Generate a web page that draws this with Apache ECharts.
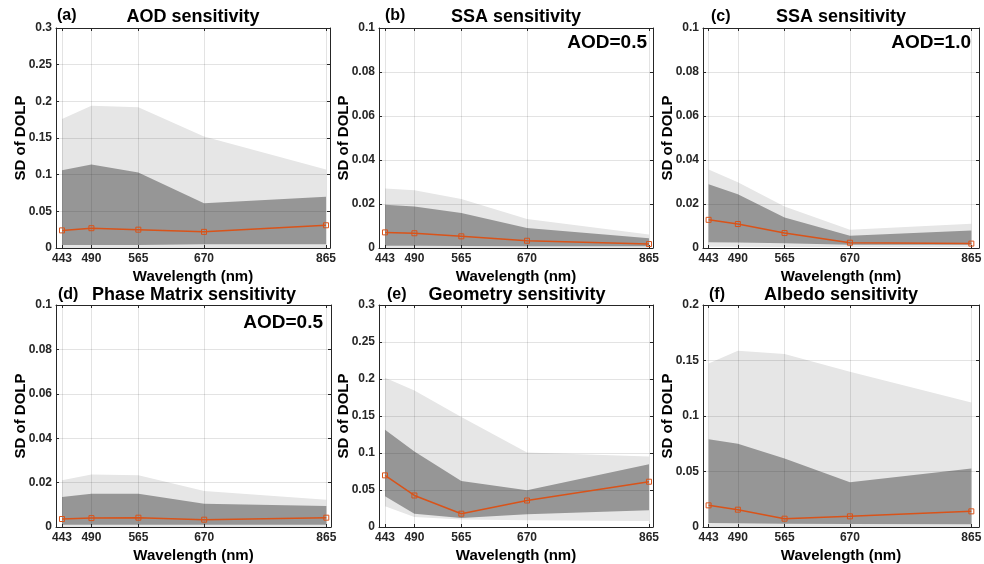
<!DOCTYPE html>
<html><head><meta charset="utf-8">
<script src="https://cdn.jsdelivr.net/npm/echarts@6/dist/echarts.min.js"></script>
<style>html,body{margin:0;padding:0;background:#fff}#c{width:984px;height:564px}</style>
</head><body><div id="c"></div>
<script>
// ---------- data ----------
const wavelengths = [443, 490, 565, 670, 865];
const panelTitles = ['AOD sensitivity', 'SSA sensitivity', 'SSA sensitivity', 'Phase Matrix sensitivity', 'Geometry sensitivity', 'Albedo sensitivity'];
const panelLabels = ['(a)', '(b)', '(c)', '(d)', '(e)', '(f)'];
const aodNotes = ['', 'AOD=0.5', 'AOD=1.0', 'AOD=0.5', '', ''];
const yMaxes = [0.3, 0.1, 0.1, 0.1, 0.3, 0.2];
const yIntervals = [0.05, 0.02, 0.02, 0.02, 0.05, 0.05];
const yAxisTitle = 'SD of DOLP';
const xAxisTitle = 'Wavelength (nm)';

// (a) AOD sensitivity
const aLightHi = [0.176, 0.194, 0.192, 0.152, 0.107];
const aDarkHi  = [0.106, 0.114, 0.103, 0.061, 0.070];
const aDarkLo  = [0.004, 0.004, 0.004, 0.005, 0.005];
const aLightLo = [0.000, 0.000, 0.000, 0.000, 0.000];
const aMean    = [0.024, 0.027, 0.025, 0.022, 0.031];
// (b) SSA sensitivity, AOD=0.5
const bLightHi = [0.0271, 0.0262, 0.0223, 0.0132, 0.0061];
const bDarkHi  = [0.0197, 0.0189, 0.0159, 0.0091, 0.0044];
const bDarkLo  = [0.0010, 0.0010, 0.0009, 0.0008, 0.0008];
const bLightLo = [0.0000, 0.0000, 0.0000, 0.0000, 0.0000];
const bMean    = [0.0071, 0.0067, 0.0053, 0.0033, 0.0018];
// (c) SSA sensitivity, AOD=1.0
const cLightHi = [0.0357, 0.0299, 0.0189, 0.0083, 0.0110];
const cDarkHi  = [0.0290, 0.0244, 0.0139, 0.0056, 0.0080];
const cDarkLo  = [0.0026, 0.0025, 0.0022, 0.0015, 0.0015];
const cLightLo = [0.0006, 0.0006, 0.0005, 0.0005, 0.0005];
const cMean    = [0.0128, 0.0109, 0.0068, 0.0024, 0.0020];
// (d) Phase Matrix sensitivity, AOD=0.5
const dLightHi = [0.0211, 0.0236, 0.0233, 0.0162, 0.0123];
const dDarkHi  = [0.0135, 0.0150, 0.0150, 0.0105, 0.0095];
const dDarkLo  = [0.0010, 0.0010, 0.0010, 0.0010, 0.0010];
const dLightLo = [0.0000, 0.0000, 0.0000, 0.0000, 0.0000];
const dMean    = [0.0036, 0.0040, 0.0042, 0.0033, 0.0042];
// (e) Geometry sensitivity
const eLightHi = [0.2017, 0.1845, 0.1486, 0.1006, 0.0952];
const eDarkHi  = [0.1314, 0.1020, 0.0620, 0.0498, 0.0847];
const eDarkLo  = [0.0417, 0.0180, 0.0122, 0.0172, 0.0227];
const eLightLo = [0.0281, 0.0136, 0.0100, 0.0090, 0.0082];
const eMean    = [0.0698, 0.0426, 0.0180, 0.0358, 0.0612];
// (f) Albedo sensitivity
const fLightHi = [0.1474, 0.1588, 0.1558, 0.1398, 0.1122];
const fDarkHi  = [0.0791, 0.0749, 0.0617, 0.0403, 0.0526];
const fDarkLo  = [0.0036, 0.0034, 0.0030, 0.0028, 0.0024];
const fLightLo = [0.0000, 0.0000, 0.0000, 0.0000, 0.0000];
const fMean    = [0.0195, 0.0156, 0.0075, 0.0096, 0.0141];

const panels = [
  [aLightHi, aDarkHi, aDarkLo, aLightLo, aMean],
  [bLightHi, bDarkHi, bDarkLo, bLightLo, bMean],
  [cLightHi, cDarkHi, cDarkLo, cLightLo, cMean],
  [dLightHi, dDarkHi, dDarkLo, dLightLo, dMean],
  [eLightHi, eDarkHi, eDarkLo, eLightLo, eMean],
  [fLightHi, fDarkHi, fDarkLo, fLightLo, fMean]
];

// ---------- layout / style ----------
const FONT = 'Liberation Sans, Arial, Helvetica, sans-serif';
const AX = '#262626';
const GRIDC = 'rgba(38,38,38,0.13)';
const LIGHT = '#e6e6e6';
const DARK = '#969696';
const LINEC = '#D95319';
const gridBoxes = [
  {left: 56,  top: 28,  width: 274, height: 220},
  {left: 379, top: 28,  width: 274, height: 220},
  {left: 703, top: 28,  width: 276, height: 220},
  {left: 56,  top: 305, width: 275, height: 222},
  {left: 379, top: 305, width: 274, height: 222},
  {left: 703, top: 305, width: 276, height: 222}
];
const xMins = [433.4, 433.4, 434, 433.4, 433.4, 434];
const xMaxs = [871.4, 871.4, 877.3, 872.5, 871.4, 877.3];

const grid = [], xAxis = [], yAxis = [], series = [], graphic = [];
const pair = (ys) => wavelengths.map((w, k) => [w, ys[k]]);
const bandRows = (lo, hi) => wavelengths.map((w, k) => [w, lo[k], hi[k]]);

function bandRenderer(fill) {
  return function (params, api) {
    if (params.dataIndexInside !== 0) return null;
    const n = params.dataInsideLength;
    const top = [], bot = [];
    for (let k = 0; k < n; k++) {
      top.push(api.coord([api.value(0, k), api.value(2, k)]));
      bot.push(api.coord([api.value(0, k), api.value(1, k)]));
    }
    return {type: 'polygon', shape: {points: top.concat(bot.reverse())}, style: {fill: fill, stroke: null}};
  };
}

panels.forEach((p, i) => {
  const g = gridBoxes[i];
  grid.push(Object.assign({containLabel: false, outerBoundsMode: 'none'}, g));
  const lineSt = {show: true, onZero: false, lineStyle: {color: AX, width: 1}};
  xAxis.push({
    gridIndex: i, type: 'value', min: xMins[i], max: xMaxs[i], position: 'bottom', z: 5,
    axisLine: lineSt,
    axisTick: {show: true, inside: true, length: 3, customValues: wavelengths, lineStyle: {color: AX}},
    axisLabel: {customValues: wavelengths, fontSize: 12, fontWeight: 'bold', color: AX, margin: 5, fontFamily: FONT},
    splitLine: {show: true, lineStyle: {color: GRIDC, width: 1}},
    name: xAxisTitle, nameLocation: 'middle', nameGap: 21, nameMoveOverlap: false,
    nameTextStyle: {fontSize: 15, fontWeight: 'bold', color: '#000', fontFamily: FONT}
  });
  xAxis.push({
    gridIndex: i, type: 'value', min: xMins[i], max: xMaxs[i], position: 'top', z: 5,
    axisLine: lineSt,
    axisTick: {show: true, inside: true, length: 3, customValues: wavelengths, lineStyle: {color: AX}},
    axisLabel: {show: false}, splitLine: {show: false}
  });
  yAxis.push({
    gridIndex: i, type: 'value', min: 0, max: yMaxes[i], interval: yIntervals[i], position: 'left', z: 5,
    axisLine: lineSt,
    axisTick: {show: true, inside: true, length: 3, lineStyle: {color: AX}},
    axisLabel: {fontSize: 12, fontWeight: 'bold', color: AX, margin: 4, fontFamily: FONT},
    splitLine: {show: true, lineStyle: {color: GRIDC, width: 1}},
    name: yAxisTitle, nameLocation: 'middle', nameGap: 28, nameMoveOverlap: false,
    nameTextStyle: {fontSize: 15, fontWeight: 'bold', color: '#000', fontFamily: FONT}
  });
  yAxis.push({
    gridIndex: i, type: 'value', min: 0, max: yMaxes[i], interval: yIntervals[i], position: 'right', z: 5,
    axisLine: lineSt,
    axisTick: {show: true, inside: true, length: 3, lineStyle: {color: AX}},
    axisLabel: {show: false}, splitLine: {show: false}
  });
  const [lHi, dHi, dLo, lLo, mean] = p;
  series.push({type: 'custom', xAxisIndex: 2 * i, yAxisIndex: 2 * i, z: 1, silent: true,
    data: bandRows(lLo, lHi), encode: {x: 0, y: [1, 2]}, renderItem: bandRenderer(LIGHT)});
  series.push({type: 'custom', xAxisIndex: 2 * i, yAxisIndex: 2 * i, z: 2, silent: true,
    data: bandRows(dLo, dHi), encode: {x: 0, y: [1, 2]}, renderItem: bandRenderer(DARK)});
  series.push({
    type: 'line', xAxisIndex: 2 * i, yAxisIndex: 2 * i, data: pair(mean), z: 6,
    symbol: 'rect', symbolSize: 5,
    lineStyle: {color: LINEC, width: 1.5},
    itemStyle: {color: 'rgba(255,255,255,0)', borderColor: LINEC, borderWidth: 1}
  });
});

// titles and panel labels
const titleCenters = [[193, 17], [516, 17], [841, 17], [194, 295], [517, 295], [841, 295]];
const labelPos = [[57, 16], [385, 16], [711, 17], [58, 295], [387, 295], [709, 295]];
const notePos = [null, [647, 43], [971, 43], [323, 323], null, null];
panelTitles.forEach((t, i) => {
  graphic.push({type: 'text', x: titleCenters[i][0], y: titleCenters[i][1], z: 10,
    style: {text: t, fill: '#000', font: 'bold 18px ' + FONT, textAlign: 'center', textVerticalAlign: 'middle'}});
  graphic.push({type: 'text', x: labelPos[i][0], y: labelPos[i][1], z: 10,
    style: {text: panelLabels[i], fill: '#000', font: 'bold 16px ' + FONT, textAlign: 'left', textVerticalAlign: 'middle'}});
  if (aodNotes[i]) {
    graphic.push({type: 'text', x: notePos[i][0], y: notePos[i][1], z: 10,
      style: {text: aodNotes[i], fill: '#000', font: 'bold 19px ' + FONT, textAlign: 'right', textVerticalAlign: 'middle'}});
  }
});

const chart = echarts.init(document.getElementById('c'), null, {renderer: 'canvas'});
chart.setOption({animation: false, backgroundColor: '#fff', grid, xAxis, yAxis, series, graphic});
</script></body></html>
